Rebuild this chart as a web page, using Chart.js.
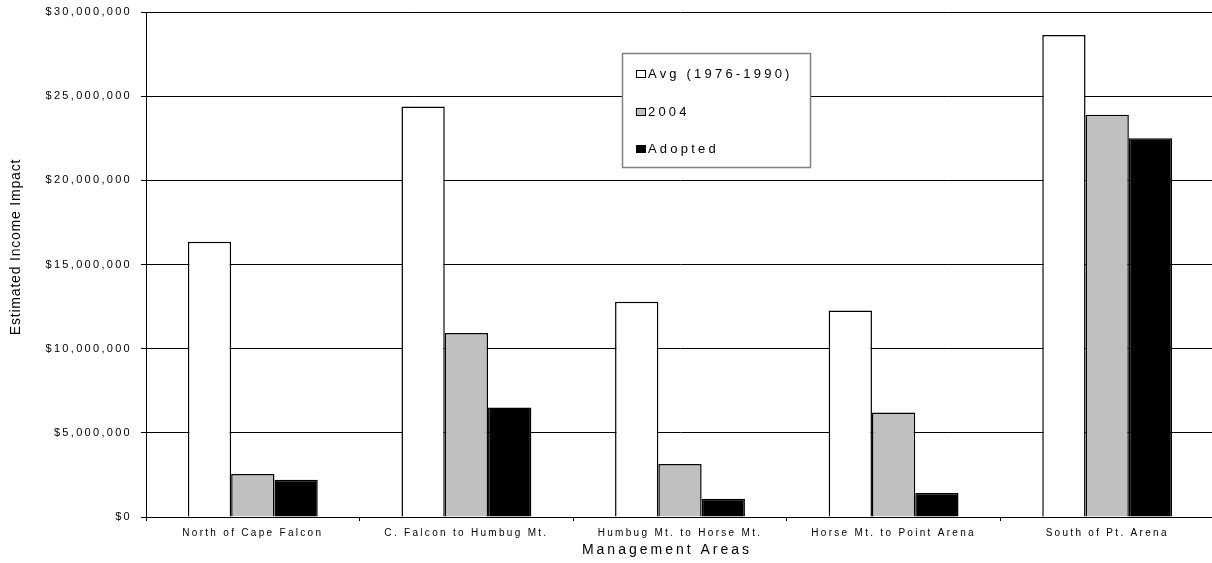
<!DOCTYPE html>
<html>
<head>
<meta charset="utf-8">
<title>Estimated Income Impact by Management Area</title>
<script src="https://cdn.jsdelivr.net/npm/chart.js@4.4.1/dist/chart.umd.min.js"></script>
<style>
  html, body { margin: 0; padding: 0; background: #fff; overflow: hidden; }
  .chart-wrap { position: relative; width: 1216px; height: 563px; }
</style>
</head>
<body>
<div class="chart-wrap"><canvas id="incomeChart"></canvas></div>
<script>
const areas = [
  "North of Cape Falcon",
  "C. Falcon to Humbug Mt.",
  "Humbug Mt. to Horse Mt.",
  "Horse Mt. to Point Arena",
  "South of Pt. Arena"
];
const avgValues = [16350000, 24380000, 12790000, 12270000, 28640000];
const values2004 = [2550000, 10930000, 3150000, 6210000, 23890000];
const adoptedValues = [2220000, 6510000, 1090000, 1430000, 22500000];
const seriesNames = ["Avg (1976-1990)", "2004", "Adopted"];
const yTicks = [0, 5000000, 10000000, 15000000, 20000000, 25000000, 30000000];
const xTitle = "Management Areas";
const yTitle = "Estimated Income Impact";

const FONT = "'Liberation Sans', Arial, sans-serif";

// the old Excel export draws its text widely spaced
const spacingPlugin = {
  id: "spacing",
  beforeUpdate(chart) { chart.ctx.letterSpacing = "2.3px"; },
  beforeDraw(chart) { chart.ctx.letterSpacing = "2.3px"; }
};

// axis titles + boxed legend drawn on top of the grid
const boxLegendPlugin = {
  id: "boxLegend",
  afterDraw(chart) {
    const ctx = chart.ctx;

    ctx.save();
    ctx.fillStyle = "#000";
    ctx.textAlign = "center";
    ctx.textBaseline = "middle";
    ctx.letterSpacing = "3px";
    ctx.font = "14px " + FONT;
    ctx.fillText(xTitle, 667, 550);
    ctx.letterSpacing = "0.8px";
    ctx.translate(16, 247);
    ctx.rotate(-Math.PI / 2);
    ctx.fillText(yTitle, 0, 0);
    ctx.restore();

    ctx.save();
    ctx.fillStyle = "#fff";
    ctx.fillRect(622, 53, 188, 114);
    ctx.strokeStyle = "#808080";
    ctx.lineWidth = 1.5;
    ctx.strokeRect(622.5, 53.5, 188, 114);

    ctx.lineWidth = 1;
    ctx.letterSpacing = "3.2px";
    ctx.font = "13px " + FONT;
    ctx.textAlign = "left";
    ctx.textBaseline = "middle";
    chart.data.datasets.forEach((ds, i) => {
      const cy = Math.round(74 + i * 37.5);
      ctx.fillStyle = ds.backgroundColor;
      ctx.fillRect(636, cy - 4, 10, 8);
      ctx.strokeStyle = "#000";
      ctx.strokeRect(636.5, cy - 3.5, 9, 7);
      ctx.fillStyle = "#000";
      ctx.fillText(ds.label, 648, cy + 0.5);
    });
    ctx.restore();
  }
};

const ctx = document.getElementById("incomeChart").getContext("2d");
const incomeChart = new Chart(ctx, {
  type: "bar",
  data: {
    labels: areas,
    datasets: [
      { label: seriesNames[0], data: avgValues, backgroundColor: "#ffffff" },
      { label: seriesNames[1], data: values2004, backgroundColor: "#c0c0c0" },
      { label: seriesNames[2], data: adoptedValues, backgroundColor: "#000000" }
    ]
  },
  options: {
    responsive: true,
    maintainAspectRatio: false,
    animation: false,
    layout: { padding: { top: 12, right: 2, bottom: 0, left: 0 } },
    datasets: {
      bar: {
        borderColor: "#000",
        borderWidth: 1.5,
        categoryPercentage: 0.608,
        barPercentage: 1
      }
    },
    plugins: {
      legend: { display: false },
      tooltip: { enabled: false }
    },
    scales: {
      x: {
        grid: {
          display: true,
          drawOnChartArea: false,
          color: "#000",
          tickLength: 4
        },
        border: { color: "#000", width: 1 },
        ticks: {
          color: "#000",
          font: { family: FONT, size: 10 },
          padding: 6,
          autoSkip: false,
          maxRotation: 0
        },
        afterFit(scale) { scale.height = 46; }
      },
      y: {
        min: 0,
        max: 30000000,
        afterBuildTicks(axis) {
          axis.ticks = yTicks.map(v => ({ value: v }));
        },
        grid: { color: "#000", lineWidth: 1, tickLength: 5 },
        border: { color: "#000", width: 1 },
        ticks: {
          color: "#000",
          font: { family: FONT, size: 11 },
          padding: 9,
          callback: value => "$" + value.toLocaleString("en-US")
        },
        afterFit(scale) {
          scale.width = 146;
          // ticks.padding is otherwise added above the top label too
          scale.paddingTop = 6;
          scale.paddingBottom = 6;
        }
      }
    }
  },
  plugins: [spacingPlugin, boxLegendPlugin]
});
</script>
</body>
</html>
